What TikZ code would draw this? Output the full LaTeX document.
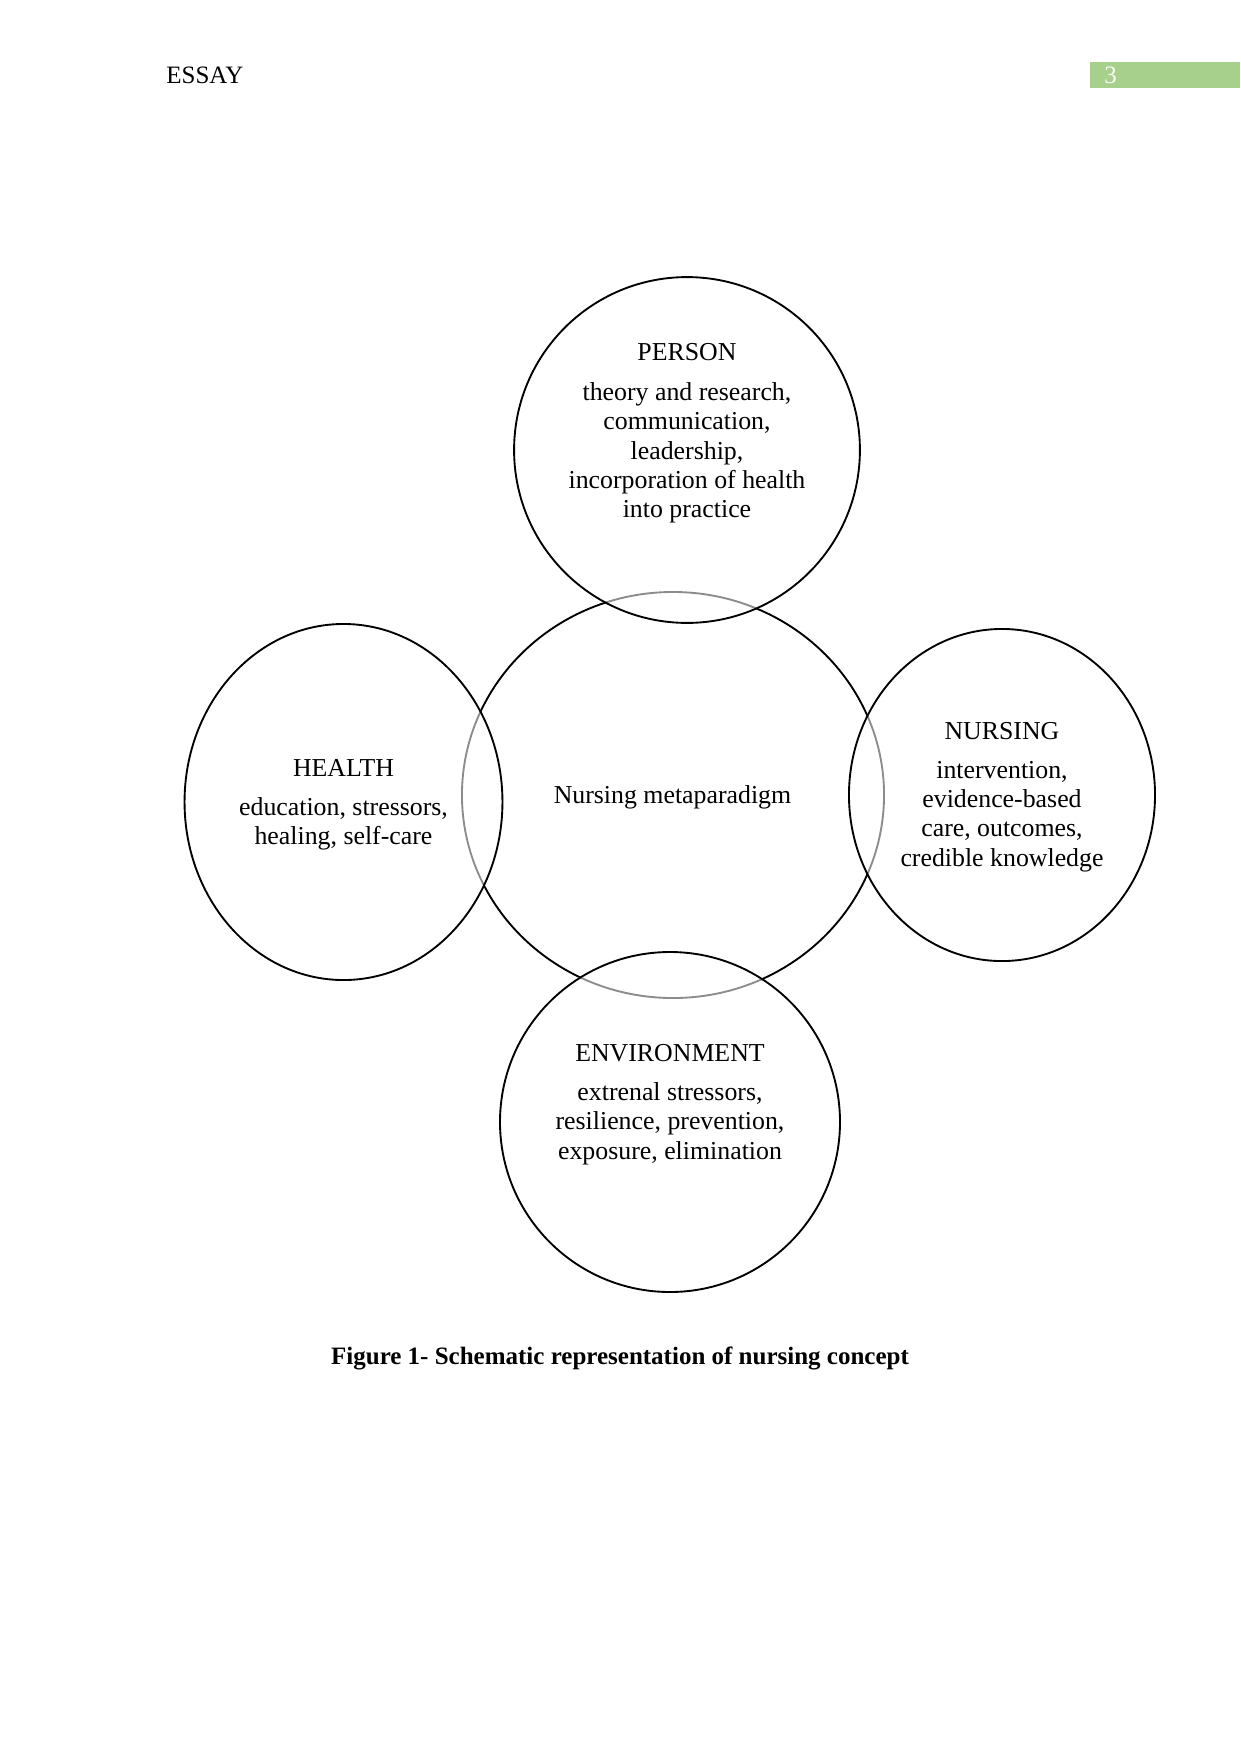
\documentclass[tikz,border=0pt]{standalone}
\usepackage{fontspec}
\setmainfont{Liberation Serif}
\usetikzlibrary{shapes.geometric}
\definecolor{pagegreen}{HTML}{A8D08D}
\begin{document}
\begin{tikzpicture}[x=0.48pt,y=-0.48pt,
  ring/.style={draw=black,line width=0.9pt,ellipse,inner sep=0pt},
  outer/.style={ring,fill=white,fill opacity=0.55},
  ttl/.style={font=\fontsize{12}{14}\selectfont,inner sep=0pt},
  ctl/.style={font=\fontsize{12.4}{14.2}\selectfont,inner sep=0pt},
  body/.style={font=\fontsize{12.4}{14.1}\selectfont,align=center,inner sep=0pt}]
\useasboundingbox[fill=white] (0,0) rectangle (1241,1754);
% header
\node[ttl,anchor=west] (essay) at (166,75) {ESSAY};
\node[fill=pagegreen,minimum width=72pt,minimum height=12.5pt,inner sep=0pt,anchor=west] (pgbox) at (1090,75) {};
\node[ttl,text=white!92!pagegreen,anchor=west] (pgnum) at (1104,75) {3};
% circles
\node[ring,minimum width=202.6pt,minimum height=194.9pt] (center) at (673,795) {};
\node[outer,minimum width=166pt,minimum height=166pt] (person) at (687,450) {};
\node[outer,minimum width=152.6pt,minimum height=170.9pt] (health) at (343.5,802) {};
\node[outer,minimum width=146.9pt,minimum height=159.4pt] (nursing) at (1002,795) {};
\node[outer,minimum width=163.2pt,minimum height=163.2pt] (env) at (670,1122) {};
% texts
\node[ctl] (centertxt) at (672.5,797.5) {Nursing metaparadigm};
\node[ctl] (persontitle) at (687,352.5) {PERSON};
\node[body] (personbody) at (687,453) {theory and research,\\communication,\\leadership,\\incorporation of health\\into practice};
\node[ctl] (healthtitle) at (343.5,767.5) {HEALTH};
\node[body] (healthbody) at (343.5,824) {education, stressors,\\healing, self-care};
\node[ctl] (nursingtitle) at (1002,731.5) {NURSING};
\node[body] (nursingbody) at (1002,816.5) {intervention,\\evidence-based\\care, outcomes,\\credible knowledge};
\node[ctl] (envtitle) at (670,1053.5) {ENVIRONMENT};
\node[body] (envbody) at (670,1123.5) {extrenal stressors,\\resilience, prevention,\\exposure, elimination};
% caption
\node[ttl,font=\fontsize{12}{14}\selectfont\bfseries] (caption) at (620,1358) {Figure 1- Schematic representation of nursing concept};
\end{tikzpicture}
\end{document}
